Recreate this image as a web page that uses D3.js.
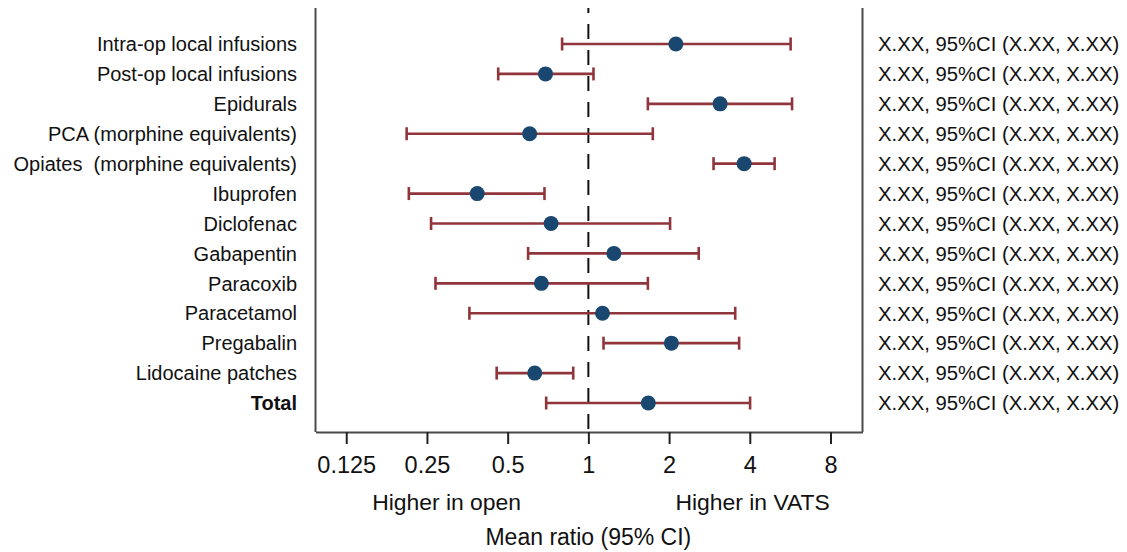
<!DOCTYPE html>
<html>
<head>
<meta charset="utf-8">
<script src="https://cdn.jsdelivr.net/npm/d3@7"></script>
<style>
	body { margin: 0; background: #fff; }
	svg { display: block; font-family: "Liberation Sans", Arial, sans-serif; }
	.label { font-size: 20px; fill: #111; white-space: pre; }
	.stat { font-size: 20.3px; fill: #111; }
	.tick text { font-size: 23.5px; fill: #111; }
	.note { font-size: 22.9px; fill: #111; }
	.title { font-size: 23px; fill: #111; }
</style>
</head>
<body>
<div id="chart"></div>
<script>
let categories	= ["Intra-op local infusions", "Post-op local infusions", "Epidurals", "PCA (morphine equivalents)",
	"Opiates  (morphine equivalents)", "Ibuprofen", "Diclofenac", "Gabapentin", "Paracoxib", "Paracetamol",
	"Pregabalin", "Lidocaine patches", "Total"];
let estimates	= [2.12, 0.692, 3.10, 0.604, 3.81, 0.385, 0.726, 1.245, 0.668, 1.129, 2.04, 0.631, 1.673];
let lower		= [0.798, 0.461, 1.667, 0.210, 2.93, 0.214, 0.259, 0.596, 0.269, 0.360, 1.139, 0.455, 0.696];
let upper		= [5.68, 1.045, 5.75, 1.739, 4.95, 0.686, 2.017, 2.58, 1.667, 3.53, 3.65, 0.878, 4.01];
let statText	= categories.map(() => "X.XX, 95%CI (X.XX, X.XX)");
let tickValues	= [0.125, 0.25, 0.5, 1, 2, 4, 8];
let tickLabels	= ["0.125", "0.25", "0.5", "1", "2", "4", "8"];
let notes		= [{ text: "Higher in open", at: 0.296 }, { text: "Higher in VATS", at: 4.1 }];

let canvasWidth		= 1127;
let canvasHeight	= 552;
let plot			= { left: 315.5, right: 862.5, top: 8, bottom: 432 };

let x	= d3.scaleLog().base(2).domain([0.0960, 10.53]).range([plot.left, plot.right]);
let y	= d3.scalePoint().domain(categories).range([44, 403]);

let red		= "#90353b";
let navy	= "#1a476f";

let data	= categories.map((c, i) => ({ name: c, est: estimates[i], lo: lower[i], hi: upper[i], stat: statText[i] }));

let svg = d3.select("#chart").append("svg")
	.attr("width", canvasWidth)
	.attr("height", canvasHeight);

// frame sides
svg.selectAll(".side")
	.data([plot.left, plot.right])
	.enter().append("line")
		.attr("x1", (o) => o).attr("x2", (o) => o)
		.attr("y1", plot.top).attr("y2", plot.bottom)
		.attr("stroke", "#4a4a4a")
		.attr("stroke-width", 2);

// x axis
let axis = svg.append("g")
	.attr("class", "x axis")
	.attr("transform", "translate(0," + plot.bottom + ")")
	.call(d3.axisBottom(x).tickValues(tickValues).tickSize(12).tickPadding(12).tickSizeOuter(0)
		.tickFormat((d, i) => tickLabels[i]));

axis.select(".domain").attr("stroke", "#4a4a4a").attr("stroke-width", 2);
axis.selectAll(".tick line").attr("stroke", "#222").attr("stroke-width", 2);
axis.selectAll(".tick text").attr("dy", "0.71em");
axis.attr("font-size", null).attr("font-family", null);

// reference line at 1
svg.append("line")
	.attr("x1", x(1)).attr("x2", x(1))
	.attr("y1", plot.top).attr("y2", plot.bottom)
	.attr("stroke", "#111")
	.attr("stroke-width", 2)
	.attr("stroke-dasharray", "15,11")
	.attr("stroke-dashoffset", 10);

// CI bars
let rows = svg.selectAll(".row")
	.data(data)
	.enter().append("g")
		.attr("class", "row")
		.attr("transform", (o) => "translate(0," + y(o.name) + ")");

rows.append("line")
	.attr("x1", (o) => x(o.lo)).attr("x2", (o) => x(o.hi))
	.attr("stroke", red).attr("stroke-width", 2.6);

rows.selectAll(".cap")
	.data((o) => [o.lo, o.hi])
	.enter().append("line")
		.attr("class", "cap")
		.attr("x1", (v) => x(v)).attr("x2", (v) => x(v))
		.attr("y1", -6.5).attr("y2", 6.5)
		.attr("stroke", red).attr("stroke-width", 2.6);

rows.append("circle")
	.attr("cx", (o) => x(o.est))
	.attr("r", 7.5)
	.attr("fill", navy);

rows.append("text")
	.attr("class", "label")
	.attr("x", 297)
	.attr("dy", "0.36em")
	.attr("text-anchor", "end")
	.style("font-weight", (o) => (o.name == "Total" ? "bold" : "normal"))
	.text((o) => o.name);

rows.append("text")
	.attr("class", "stat")
	.attr("x", 878)
	.attr("dy", "0.36em")
	.text((o) => o.stat);

// notes and title
svg.selectAll(".note")
	.data(notes)
	.enter().append("text")
		.attr("class", "note")
		.attr("x", (o) => x(o.at))
		.attr("y", 502)
		.attr("dy", "0.36em")
		.attr("text-anchor", "middle")
		.text((o) => o.text);

svg.append("text")
	.attr("class", "title")
	.attr("x", x(1))
	.attr("y", 537)
	.attr("dy", "0.36em")
	.attr("text-anchor", "middle")
	.text("Mean ratio (95% CI)");
</script>
</body>
</html>
